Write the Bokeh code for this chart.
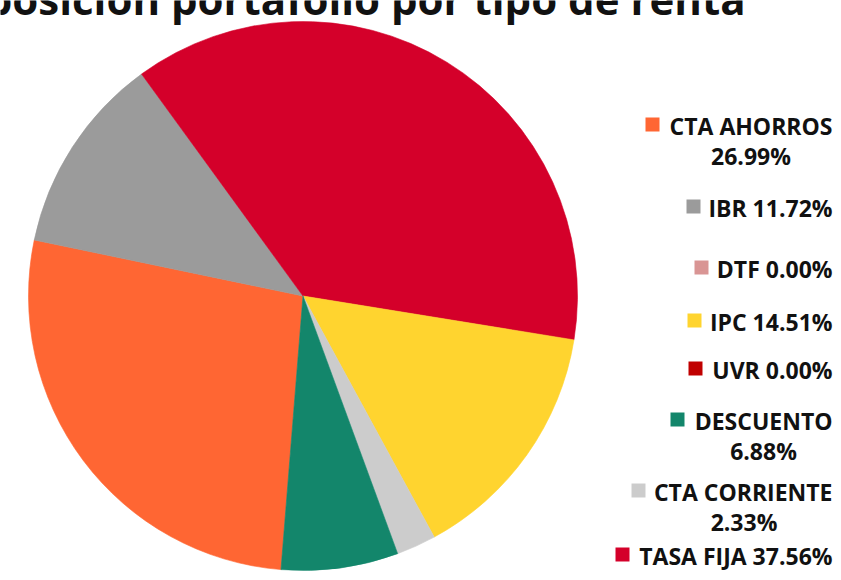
import math
from bokeh.plotting import figure
from bokeh.models import Range1d, ColumnDataSource
from bokeh.core.properties import value
from bokeh.embed import file_html
from bokeh.resources import INLINE

# ---------------- data ----------------
title_text = "Composición portafolio por tipo de renta"
labels = ["CTA AHORROS", "IBR", "DTF", "IPC", "UVR", "DESCUENTO", "CTA CORRIENTE", "TASA FIJA"]
values = [26.99, 11.72, 0.00, 14.51, 0.00, 6.88, 2.33, 37.56]
colors = ["#FF6633", "#9B9B9B", "#D99594", "#FFD42F", "#C00000", "#13866B", "#CCCCCC", "#D4002A"]
pie_order = ["CTA AHORROS", "IBR", "DTF", "TASA FIJA", "IPC", "UVR", "CTA CORRIENTE", "DESCUENTO"]

# ---------------- layout (picture pixel coordinates) ----------------
W, H = 833, 572
CX, CY, R = 302.5, 295.5, 274.5
START_DEG = -94.6            # pie drawn clockwise from here
legend_wrap = [True, False, False, False, False, True, True, False]
legend_sq_left = [645, 686, 694, 687, 688, 670, 631, 615]
legend_mid = [125, 207, 268, 321, 369, 420, 491, 555]  # first-line cap centre
TEXT_RIGHT = 832
LINE_GAP = 30
SQ_GAP = 24
FONT = value("Open Sans")


def Y(py):
    return H - py


p = figure(width=W, height=H, output_backend="svg", toolbar_location=None,
           x_range=Range1d(0, W), y_range=Range1d(0, H), min_border=0)
p.axis.visible = False
p.grid.visible = False
p.outline_line_color = None
p.background_fill_color = "white"
p.border_fill_color = "white"

# ---------------- pie ----------------
total = sum(values)
starts, ends, wcols = [], [], []
a = math.radians(START_DEG)
for name in pie_order:
    i = labels.index(name)
    span = 2 * math.pi * values[i] / total
    if span > 0:
        starts.append(a - span)
        ends.append(a)
        wcols.append(colors[i])
    a -= span
src = ColumnDataSource(dict(start=starts, end=ends, color=wcols))
p.wedge(x=CX, y=Y(CY), radius=R, start_angle="start", end_angle="end",
        direction="anticlock", fill_color="color", line_color="color",
        line_width=0.6, source=src)

# ---------------- title (cropped at top, as in the reference) ----------------
p.text(x=[745], y=[Y(-2)], text=[title_text], text_font=FONT,
       text_font_style="bold", text_font_size="42px", text_color="#111111",
       text_align="right", text_baseline="middle")

# ---------------- legend ----------------
sq_x, sq_y, sq_c = [], [], []
t1_x, t1_y, t1_t = [], [], []
t2_x, t2_y, t2_t = [], [], []
for i, name in enumerate(labels):
    pct = f"{values[i]:.2f}%"
    mid = legend_mid[i]
    sq_x.append(legend_sq_left[i] + 7)
    sq_y.append(Y(mid - 1))
    sq_c.append(colors[i])
    if legend_wrap[i]:
        t1_x.append(TEXT_RIGHT); t1_y.append(Y(mid)); t1_t.append(name)
        t2_x.append((legend_sq_left[i] + SQ_GAP + TEXT_RIGHT) / 2)
        t2_y.append(Y(mid + LINE_GAP)); t2_t.append(pct)
    else:
        t1_x.append(TEXT_RIGHT); t1_y.append(Y(mid)); t1_t.append(f"{name} {pct}")

p.rect(x=sq_x, y=sq_y, width=14, height=14, width_units="screen",
       height_units="screen", fill_color=sq_c, line_color=None)
p.text(x=t1_x, y=t1_y, text=t1_t, text_font=FONT, text_font_style="bold",
       text_font_size="23px", text_color="#111111", text_align="right",
       text_baseline="middle")
p.text(x=t2_x, y=t2_y, text=t2_t, text_font=FONT, text_font_style="bold",
       text_font_size="23px", text_color="#111111", text_align="center",
       text_baseline="middle")

open("out.html", "w").write(file_html(p, INLINE))
